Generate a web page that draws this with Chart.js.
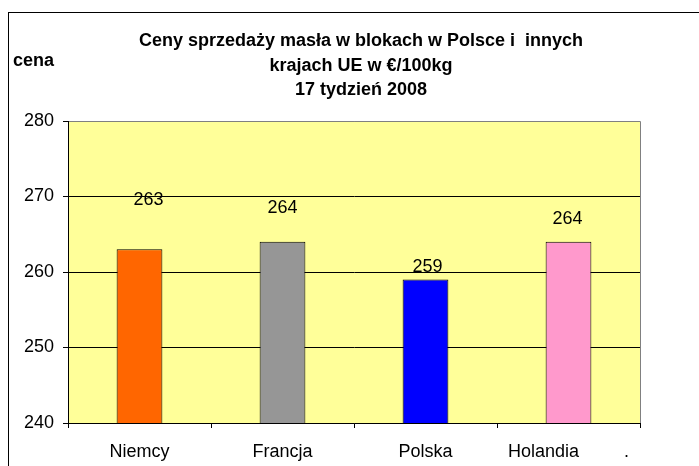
<!DOCTYPE html>
<html>
<head>
<meta charset="utf-8">
<script src="https://cdn.jsdelivr.net/npm/chart.js@4/dist/chart.umd.min.js"></script>
<style>
  html, body { margin: 0; padding: 0; background: #fff; overflow: hidden; }
  #frame { position: absolute; left: 8px; top: 12px; width: 760px; height: 520px;
           border-left: 1px solid #000; border-top: 1px solid #000; }
  #wrap { position: absolute; left: 0; top: 0; width: 699px; height: 466px; }
</style>
</head>
<body>
<div id="frame"></div>
<div id="wrap"><canvas id="c"></canvas></div>
<script>
// ---- data ----
const categories = ['Niemcy', 'Francja', 'Polska', 'Holandia         .'];
const prices = [263, 264, 259, 264];
const barColors = ['#FF6600', '#969696', '#0000FF', '#FF99CC'];
const yTicks = [240, 250, 260, 270, 280];
const titleLines = ['Ceny sprzedaży masła w blokach w Polsce i  innych', 'krajach UE w €/100kg', '17 tydzień 2008'];
const yAxisLabel = 'cena';
// manual label placement (offsets from bar top / centre, as in the original)
const labelDx = [9, 0, 2, -1];
const labelDy = [-44, -29, -8, -18];

const FONT = '"Liberation Sans", Arial, sans-serif';

const bgPlugin = {
  id: 'bgPlugin',
  beforeDraw(chart) {
    const { ctx, chartArea: a } = chart;
    ctx.save();
    ctx.fillStyle = '#FFFF99';
    ctx.fillRect(a.left, a.top, a.right - a.left, a.bottom - a.top);
    ctx.strokeStyle = '#808080';
    ctx.lineWidth = 1;
    ctx.beginPath();
    ctx.moveTo(a.left, a.top + 0.5);
    ctx.lineTo(a.right + 0.5, a.top + 0.5);
    ctx.lineTo(a.right + 0.5, a.bottom);
    ctx.stroke();
    ctx.restore();
  }
};

const textPlugin = {
  id: 'textPlugin',
  afterDraw(chart) {
    const { ctx } = chart;
    ctx.save();
    ctx.fillStyle = '#000';
    ctx.textBaseline = 'alphabetic';
    ctx.font = 'bold 18px ' + FONT;
    ctx.textAlign = 'center';
    const base = [46, 71, 95];
    titleLines.forEach((t, i) => ctx.fillText(t, 361, base[i]));
    ctx.textAlign = 'left';
    ctx.fillText(yAxisLabel, 13, 66);
    // data labels
    ctx.font = '18px ' + FONT;
    ctx.textAlign = 'center';
    const meta = chart.getDatasetMeta(0);
    meta.data.forEach((bar, i) => {
      ctx.fillText(String(prices[i]), bar.x + labelDx[i], bar.y + labelDy[i]);
    });
    ctx.restore();
  }
};

new Chart(document.getElementById('c'), {
  type: 'bar',
  data: {
    labels: categories,
    datasets: [{
      data: prices,
      backgroundColor: barColors,
      borderColor: '#000',
      borderWidth: 1,
      categoryPercentage: 1,
      barPercentage: 0.32
    }]
  },
  options: {
    responsive: true,
    maintainAspectRatio: false,
    animation: false,
    layout: { padding: { top: 121, right: 59, left: 0, bottom: 0 } },
    plugins: { legend: { display: false }, title: { display: false }, tooltip: { enabled: false } },
    scales: {
      x: {
        grid: { drawOnChartArea: false, drawTicks: true, tickLength: 5, tickColor: '#000', offset: true },
        border: { color: '#000', width: 1 },
        ticks: { color: '#000', font: { family: FONT, size: 18 }, padding: 13, maxRotation: 0, autoSkip: false },
        afterFit(s) { s.height = 43; }
      },
      y: {
        min: 240, max: 280,
        afterBuildTicks(s) { s.ticks = yTicks.map(v => ({ value: v })); },
        grid: {
          color: ctx => (ctx.tick && ctx.tick.value === 280) ? '#808080' : '#000',
          tickColor: '#000', tickLength: 5, drawTicks: true
        },
        border: { color: '#000', width: 1 },
        ticks: { color: '#000', font: { family: FONT, size: 18 }, padding: 9 },
        afterFit(s) { s.width = 68; }
      }
    }
  },
  plugins: [bgPlugin, textPlugin]
});
</script>
</body>
</html>
